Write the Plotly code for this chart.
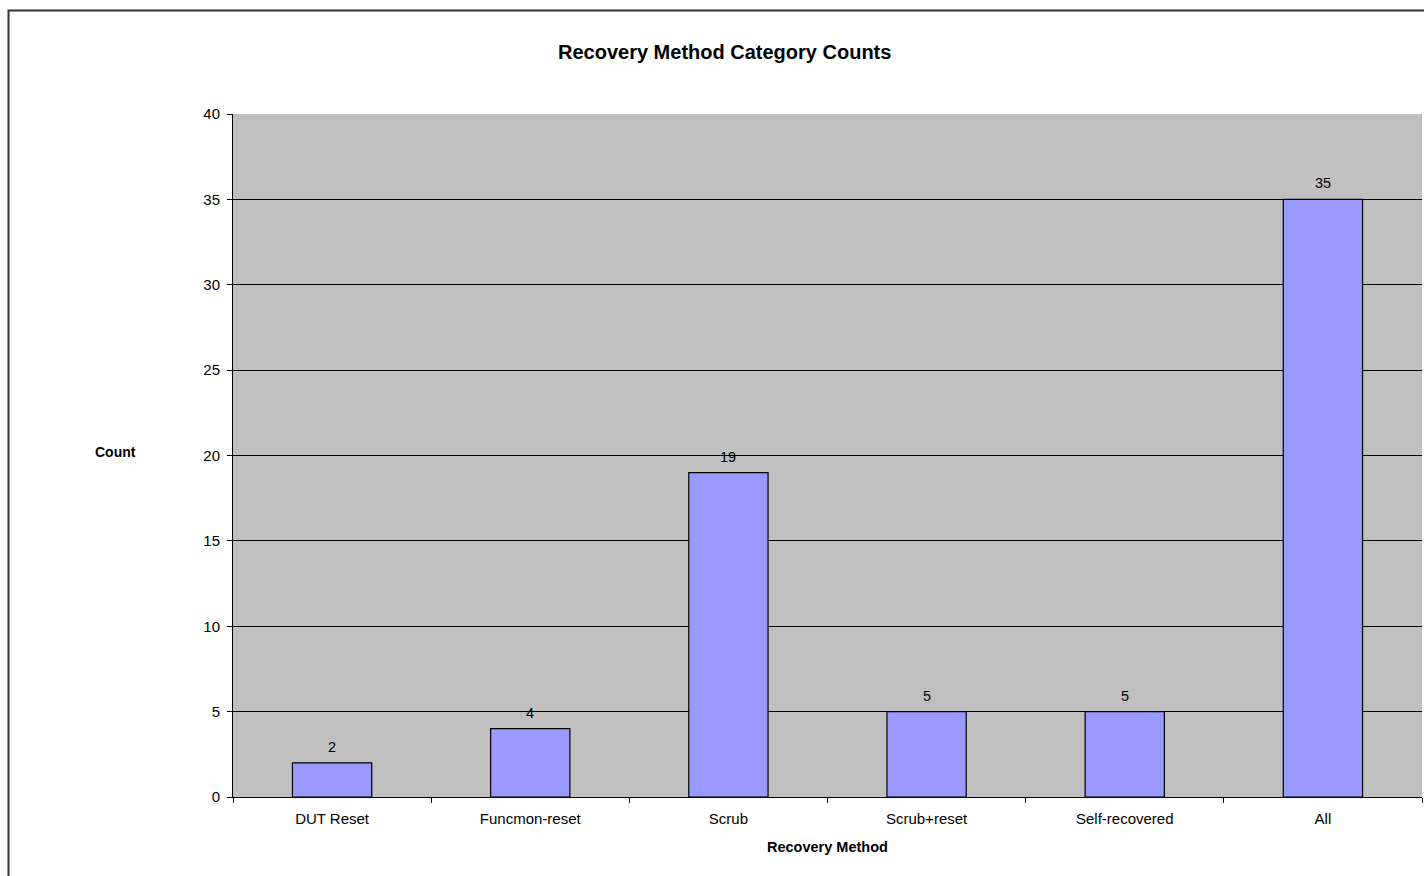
import plotly.graph_objects as go

categories = ["DUT Reset", "Funcmon-reset", "Scrub", "Scrub+reset", "Self-recovered", "All"]
counts = [2, 4, 19, 5, 5, 35]

W, H = 1424, 876
ML, MR, MT, MB = 233, 2, 114, 79
PW, PH = W - ML - MR, H - MT - MB


def px_to_paper_x(px):
    return (px - ML) / PW


def px_to_paper_y(py):
    return (H - MB - py) / PH


FONT = "Liberation Sans, Arial, sans-serif"

fig = go.Figure(
    go.Bar(
        x=categories,
        y=counts,
        marker=dict(color="#9999FF", line=dict(color="#000000", width=1.2)),
        width=0.4,
        hoverinfo="x+y",
    )
)

annotations = [
    dict(
        x=c, y=v, xref="x", yref="y", text=str(v), showarrow=False,
        yanchor="bottom", yshift=6, font=dict(family=FONT, size=14.5, color="#000000"),
    )
    for c, v in zip(categories, counts)
]
annotations += [
    dict(
        x=px_to_paper_x(115), y=px_to_paper_y(452), xref="paper", yref="paper",
        text="<b>Count</b>", showarrow=False, xanchor="center", yanchor="middle",
        font=dict(family=FONT, size=14, color="#000000"),
    ),
    dict(
        x=0.5, y=px_to_paper_y(847), xref="paper", yref="paper",
        text="<b>Recovery Method</b>", showarrow=False, xanchor="center", yanchor="middle",
        font=dict(family=FONT, size=14.5, color="#000000"),
    ),
    dict(
        x=px_to_paper_x(724), y=px_to_paper_y(52), xref="paper", yref="paper",
        text="<b>Recovery Method Category Counts</b>", showarrow=False,
        xanchor="center", yanchor="middle",
        font=dict(family=FONT, size=20, color="#000000"),
    ),
]

fig.update_layout(
    width=W, height=H,
    margin=dict(l=ML, r=MR, t=MT, b=MB, pad=0),
    paper_bgcolor="#FFFFFF",
    plot_bgcolor="#C0C0C0",
    showlegend=False,
    annotations=annotations,
    shapes=[
        dict(
            type="rect", xref="paper", yref="paper",
            x0=px_to_paper_x(8.5), x1=px_to_paper_x(1440),
            y0=px_to_paper_y(900), y1=px_to_paper_y(10.5),
            line=dict(color="#333333", width=2), fillcolor="rgba(0,0,0,0)",
            layer="below",
        )
    ],
    xaxis=dict(
        type="category",
        tickson="boundaries",
        ticks="outside", ticklen=5, tickcolor="#000000", tickwidth=1,
        ticklabelstandoff=8,
        showline=True, linecolor="#000000", linewidth=1,
        showgrid=False, zeroline=False,
        tickfont=dict(family=FONT, size=15, color="#000000"),
    ),
    yaxis=dict(
        range=[0, 40], dtick=5, tick0=0,
        ticks="outside", ticklen=5, tickcolor="#000000", tickwidth=1,
        ticklabelstandoff=4,
        showline=True, linecolor="#000000", linewidth=1,
        showgrid=True, gridcolor="#000000", gridwidth=1,
        zeroline=False,
        tickfont=dict(family=FONT, size=15, color="#000000"),
    ),
)

fig.write_html("out.html")
